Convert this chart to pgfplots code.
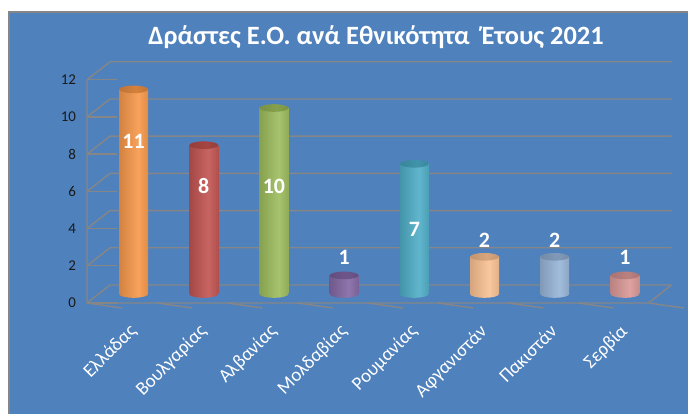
\documentclass[border=0pt]{standalone}
\usepackage{fontspec}
\setmainfont{Carlito}
\usepackage{pgfplots}
\pgfplotsset{compat=1.18}
\usetikzlibrary{shapes.geometric}
\definecolor{panel}{HTML}{4F81BD}
\definecolor{gridc}{RGB}{134,134,134}
\definecolor{cA}{HTML}{F79646}
\definecolor{cB}{HTML}{C0504D}
\definecolor{cC}{HTML}{9BBB59}
\definecolor{cD}{HTML}{8064A2}
\definecolor{cE}{HTML}{4BACC6}
\definecolor{cF}{HTML}{FAC090}
\definecolor{cG}{HTML}{95B3D7}
\definecolor{cH}{HTML}{D99694}
\newcommand{\mkcyl}[1]{%
  \pgfdeclarehorizontalshading{cyl#1}{100bp}{color(0bp)=(#1!55!black); color(18bp)=(#1!82!black); color(58bp)=(#1!88!white); color(84bp)=(#1!85!black); color(100bp)=(#1!55!black)}%
  \pgfdeclarehorizontalshading{cap#1}{100bp}{color(0bp)=(#1!70!black); color(55bp)=(#1!86!black); color(100bp)=(#1!68!black)}}
\mkcyl{cA}\mkcyl{cB}\mkcyl{cC}\mkcyl{cD}\mkcyl{cE}\mkcyl{cF}\mkcyl{cG}\mkcyl{cH}
\tikzset{
  front/.style={shift={(-11.5bp,-9bp)}},
  back/.style={shift={(11.5bp,9bp)}},
  disc/.style={ellipse, minimum width=29bp, minimum height=7.6bp, inner sep=0pt, shade, shading angle=0, anchor=center, draw=none},
}
% #1 colour, #2 left edge, #3 centre, #4 right edge, #5 value
\newcommand{\cyl}[5]{%
  \addplot[draw=none, mark=none, nodes near coords={}, nodes near coords style={disc, shading=cyl#1}] coordinates {(#3,0)};
  \addplot[draw=none, shade, shading=cyl#1, shading angle=0] coordinates {(#2,#5) (#4,#5)} \closedcycle;
  \addplot[draw=none, mark=none, nodes near coords={}, nodes near coords style={disc, shading=cap#1}] coordinates {(#3,#5)};
}
\begin{document}
\begin{tikzpicture}
\useasboundingbox (0,0) rectangle (688bp,414bp);
\fill[white] (0,0) rectangle (688bp,414bp);
\fill[panel] (9bp,0) rectangle (688bp,402bp);
\draw[gridc, line width=2bp] (9bp,0) -- (9bp,402bp) -- (688bp,402bp);
\node[font=\bfseries\fontsize{26.5}{26.5}\selectfont, text=white] at (376bp,377bp) {Δράστες Ε.Ο. ανά Εθνικότητα\ \ Έτους 2021};
\begin{axis}[
  at={(98.5bp,120bp)}, anchor=south west,
  scale only axis, width=561.5bp, height=223.2bp,
  xmin=-0.5, xmax=7.5, ymin=0, ymax=12,
  clip=false,
  axis line style={draw=none},
  major tick style={draw=none},
  ytick={0,2,...,12},
  xtick={0,...,7},
  xticklabels={Ελλάδας,Βουλγαρίας,Αλβανίας,Μολδαβίας,Ρουμανίας,Αφγανιστάν,Πακιστάν,Σερβία},
  /pgf/number format/assume math mode=true,
  yticklabel style={font=\fontsize{15}{15}\selectfont, text=black!90, anchor=east, xshift=-19bp, yshift=-9bp},
  xticklabel style={font=\fontsize{19}{19}\selectfont, text=white, xshift=-6bp, yshift=-24bp, rotate=45, anchor=north east},
]
\pgfplotsinvokeforeach{0,2,...,12}{
  \draw[gridc, line width=1.4bp] ([front]axis cs:-0.5,#1) -- ([back]axis cs:-0.5,#1) -- ([back]axis cs:7.5,#1);
  \draw[gridc, line width=1.4bp] ([front]axis cs:-0.5,#1) -- ++(-5bp,0);
}
\draw[gridc, line width=1.4bp] ([front]axis cs:-0.5,12) -- ([front]axis cs:-0.5,0) -- ([front]axis cs:7.5,0) -- ([back]axis cs:7.5,0);
\pgfplotsinvokeforeach{-0.5,0.5,...,7.5}{
  \draw[gridc, line width=1.4bp] ([front]axis cs:#1,0) -- ++(0,-5bp);
}
\cyl{cA}{-0.2066}{0}{0.2066}{11}
\cyl{cB}{0.7934}{1}{1.2066}{8}
\cyl{cC}{1.7934}{2}{2.2066}{10}
\cyl{cD}{2.7934}{3}{3.2066}{1}
\cyl{cE}{3.7934}{4}{4.2066}{7}
\cyl{cF}{4.7934}{5}{5.2066}{2}
\cyl{cG}{5.7934}{6}{6.2066}{2}
\cyl{cH}{6.7934}{7}{7.2066}{1}
\addplot[draw=none, mark=none, nodes near coords, point meta=explicit symbolic,
  nodes near coords style={anchor=center, text=white, font=\bfseries\fontsize{22}{22}\selectfont}]
  coordinates {(0,8.2) [11] (1,5.8) [8] (2,5.8) [10] (3,1.95) [1] (4,3.45) [7] (5,2.9) [2] (6,2.9) [2] (7,1.95) [1]};
\end{axis}
\end{tikzpicture}
\end{document}
